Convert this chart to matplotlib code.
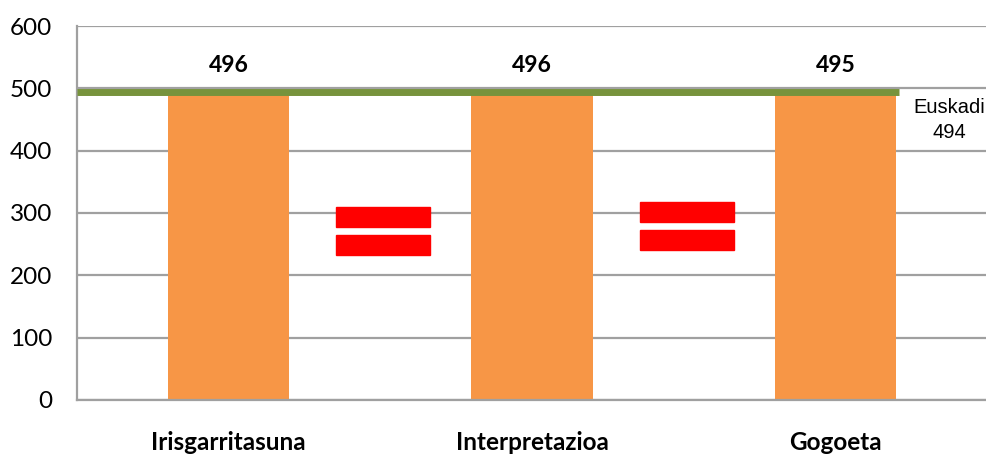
import matplotlib
matplotlib.use("Agg")
import matplotlib.pyplot as plt
from matplotlib.patches import Rectangle

# Data
categories = ["Irisgarritasuna", "Interpretazioa", "Gogoeta"]
scores = [496, 496, 495]
euskadi_label = "Euskadi"
euskadi_value = 494
y_ticks = [0, 100, 200, 300, 400, 500, 600]

# Styling
bar_color = "#F79646"
line_color = "#77933C"
grid_color = "#A0A0A0"
equal_color = "#FF0000"
font_main = ["Lato", "DejaVu Sans"]
font_note = ["Liberation Sans", "DejaVu Sans"]

fig = plt.figure(figsize=(9.87, 4.54), dpi=100)
ax = fig.add_axes([0.078, 0.119, 0.922, 0.8237])

x = list(range(len(categories)))
ax.bar(x, scores, width=0.4, color=bar_color, zorder=2)

ax.set_xlim(-0.5, len(categories) - 0.5)
ax.set_ylim(0, 600)
ax.set_yticks(y_ticks)
ax.set_yticklabels([str(t) for t in y_ticks], family=font_main, fontsize=17.5)
ax.tick_params(axis="y", length=0, pad=18)
ax.set_xticks(x)
ax.set_xticklabels(categories, family=font_main, fontsize=17.5, fontweight="bold")
ax.tick_params(axis="x", length=0, pad=22)

ax.yaxis.grid(True, color=grid_color, linewidth=1.6, zorder=0)
ax.set_axisbelow(True)
for side in ("top", "right"):
    ax.spines[side].set_visible(False)
for side in ("left", "bottom"):
    ax.spines[side].set_color(grid_color)
    ax.spines[side].set_linewidth(1.6)

# Reference line for the regional average
ax.hlines(euskadi_value, -0.5, 2.21, color=line_color, linewidth=5, zorder=3)
ax.text(2.375, euskadi_value - 10, f"{euskadi_label}\n{euskadi_value}",
        ha="center", va="top", family=font_note, fontsize=14.5, linespacing=1.4)

# Value labels above the bars
for xi, v in zip(x, scores):
    ax.text(xi, 537, str(v), ha="center", va="center",
            family=font_main, fontsize=16.5, fontweight="bold")

# "Equal" markers between neighbouring bars
eq_centers = [271, 279]
bar_h = 31
gap = 14
eq_w = 0.31
for i, yc in enumerate(eq_centers):
    xc = (x[i] + x[i + 1]) / 2 + 0.01
    for y0 in (yc + gap / 2, yc - gap / 2 - bar_h):
        ax.add_patch(Rectangle((xc - eq_w / 2, y0), eq_w, bar_h,
                               color=equal_color, zorder=4))

fig.savefig("out.png", dpi=100)
